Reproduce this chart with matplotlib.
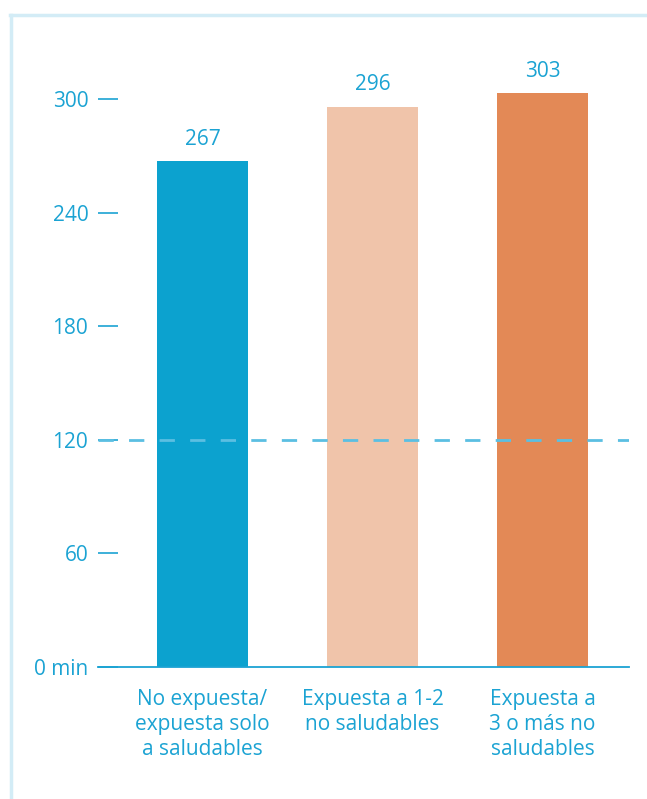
import matplotlib
matplotlib.use('Agg')

import matplotlib.pyplot as plt
from matplotlib.lines import Line2D

categories = ['No expuesta/\nexpuesta solo\na saludables',
              'Expuesta a 1-2\nno saludables',
              'Expuesta a\n3 o más no\nsaludables']
values = [267, 296, 303]
yticks = [0, 60, 120, 180, 240, 300]
ytick_labels = ['0 min', '60', '120', '180', '240', '300']
reference = 120

bar_colors = ['#0ca2cf', '#f0c4aa', '#e38956']
blue = '#1ba3d3'
frame = '#d3ecf6'

plt.rcParams['font.family'] = ['Open Sans', 'DejaVu Sans']

fig = plt.figure(figsize=(6.47, 7.99), dpi=100)
ax = fig.add_axes([98/647, 132/799, 531/647, 0.7583])

x = range(len(values))
ax.bar(x, values, width=0.535, color=bar_colors, zorder=2)
for xi, v in zip(x, values):
    ax.text(xi, v + 6, str(v), ha='center', va='bottom', color=blue, fontsize=15)

ax.axhline(reference, color='#5bbfe2', lw=2, ls=(0, (5.5, 5.5)), zorder=3)

ax.set_xlim(-0.6147, 2.5088)
ax.set_ylim(0, 320)
ax.set_yticks(yticks)
ax.set_yticklabels(ytick_labels)
ax.tick_params(axis='y', direction='in', length=14.4, width=1.2, color=blue,
               labelcolor=blue, labelsize=15, pad=7)
ax.set_xticks(list(x))
ax.set_xticklabels(categories, linespacing=1.25)
ax.tick_params(axis='x', length=0, labelcolor=blue, labelsize=15, pad=16)

for s in ['left', 'top', 'right']:
    ax.spines[s].set_visible(False)
ax.spines['bottom'].set_color(blue)
ax.spines['bottom'].set_linewidth(1.3)

# light frame round the panel
fig.add_artist(Line2D([10.5/647, 10.5/647], [0, 1 - 14.5/799], color=frame, lw=2.5,
                      transform=fig.transFigure))
fig.add_artist(Line2D([9.5/647, 1], [1 - 14.5/799, 1 - 14.5/799], color=frame, lw=2.5,
                      transform=fig.transFigure))

fig.savefig('out.png', dpi=100)
